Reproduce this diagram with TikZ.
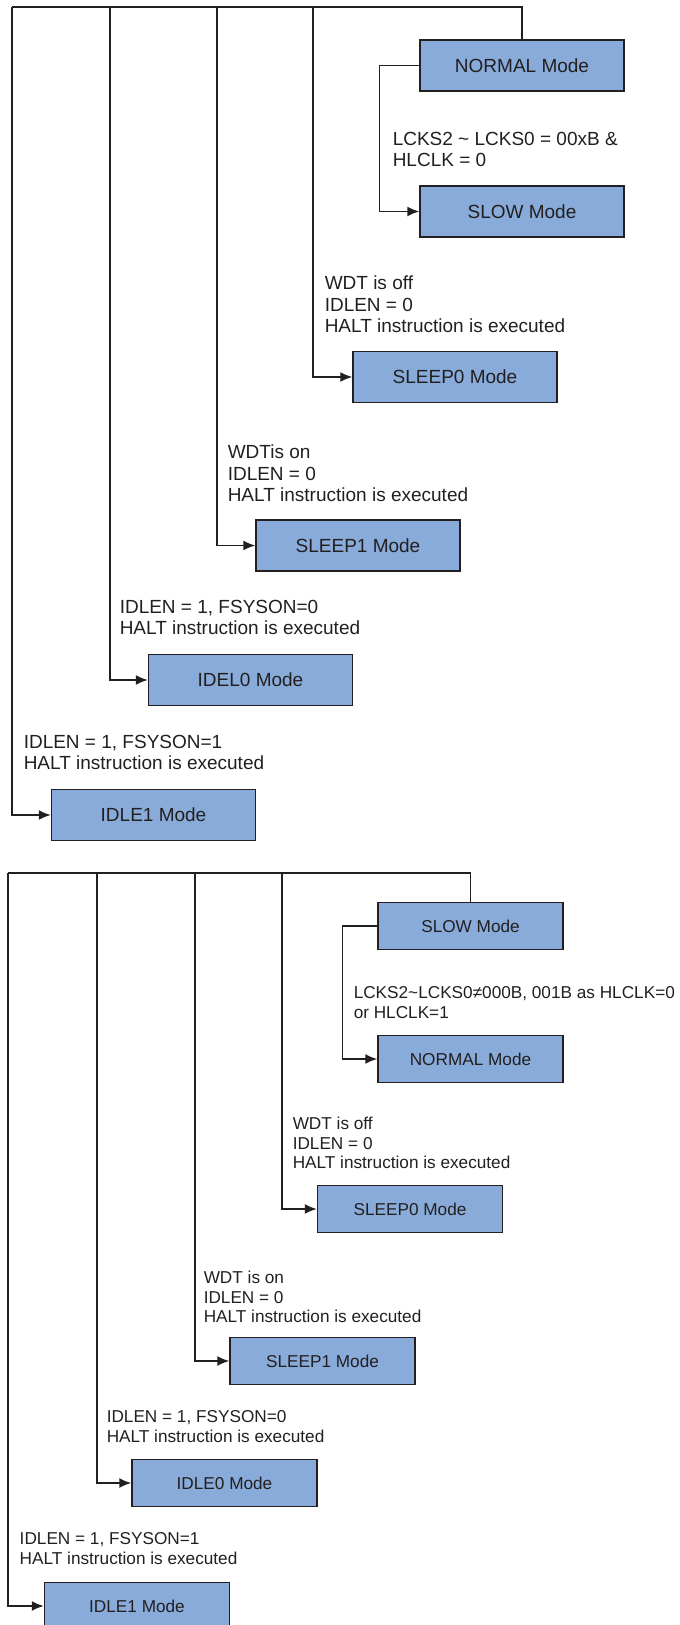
\documentclass[tikz,border=0pt]{standalone}
\usepackage{fontspec}
\setmainfont{Liberation Sans}
\usetikzlibrary{arrows.meta}
\tikzset{>={Latex[width=5pt,length=6pt]}}
\definecolor{modefill}{RGB}{136,171,217}
\definecolor{ln}{RGB}{35,31,32}

\begin{document}
\begin{tikzpicture}[x=0.5pt,y=-0.5pt,line width=0.75pt,color=ln]
\tikzstyle{m}=[draw=ln,fill=modefill,minimum width=102pt,minimum height=25.5pt,inner sep=0,font=\fontsize{9.5}{11}\selectfont]
\tikzstyle{mb}=[m,minimum width=92.5pt,minimum height=23.5pt,font=\fontsize{8.6}{10}\selectfont]
\tikzstyle{t}=[anchor=north west,inner sep=0,align=left,font=\fontsize{9.5}{10.75}\selectfont]
\tikzstyle{tb}=[t,font=\fontsize{8.6}{9.9}\selectfont]
\useasboundingbox (0,0) rectangle (679,1625);

    % NORMAL -> SLOW
    \node[m] (n1) at (522,65.5){NORMAL Mode};
    \node[m] (s1) at (522,211.5){SLOW Mode};
    \node[m] (p01) at (455,377){SLEEP0 Mode};
    \node[m] (p11) at (358,545.5){SLEEP1 Mode};
    \node[m] (i01) at (250.5,680){IDEL0 Mode};
    \node[m] (i11) at (153.5,815){IDLE1 Mode};
    
    \node[t] (c11) at (392,131){LCKS2 \textasciitilde{} LCKS0 = 00xB \&\\HLCLK = 0};
    \node[t] (c21) at (324,275){WDT is off\\IDLEN = 0\\HALT instruction is executed};
    \node[t] (c31) at (227,444){WDTis on\\IDLEN = 0\\HALT instruction is executed};
    \node[t] (c41) at (119,599){IDLEN = 1, FSYSON=0\\HALT instruction is executed};
    \node[t] (c51) at (23,734){IDLEN = 1, FSYSON=1\\HALT instruction is executed};
    
    \coordinate (b11) at (12,7);
    \coordinate (b21) at (110,7);
    \coordinate (b31) at (217,7);
    \coordinate (b41) at (313,7);
    
    \draw (n1.north) |- (b11);
    \draw[->] (n1.west) -- ++(-40,0) |- (s1);
    \draw[->] (b41) |- (p01);
    \draw[->] (b31) |- (p11);
    \draw[->] (b21) |- (i01);
    \draw[->] (b11) |- (i11);

    % SLOW -> NORMAL
    \node[mb] (s2) at (470.5,926){SLOW Mode};
    \node[mb] (n2) at (470.5,1059){NORMAL Mode};
    \node[mb] (p02) at (410,1209){SLEEP0 Mode};
    \node[mb] (p12) at (322.5,1361){SLEEP1 Mode};
    \node[mb] (i02) at (224.5,1483){IDLE0 Mode};
    \node[mb] (i12) at (137,1606){IDLE1 Mode};
    
    \node[tb] (c12) at (353,986){LCKS2\textasciitilde LCKS0≠000B, 001B as HLCLK=0\\or HLCLK=1};
    \node[tb] (c22) at (292,1116){WDT is off\\IDLEN = 0\\HALT instruction is executed};
    \node[tb] (c32) at (203,1270){WDT is on\\IDLEN = 0\\HALT instruction is executed};
    \node[tb] (c42) at (106,1410){IDLEN = 1, FSYSON=0\\HALT instruction is executed};
    \node[tb] (c52) at (19,1532){IDLEN = 1, FSYSON=1\\HALT instruction is executed};
    
    \coordinate (b12) at (8,873);
    \coordinate (b22) at (97,873);
    \coordinate (b32) at (195,873);
    \coordinate (b42) at (282,873);
    
    \draw (s2.north) |- (b12);
    \draw[->] (s2.west) -- ++(-35,0) |- (n2);
    \draw[->] (b42) |- (p02);
    \draw[->] (b32) |- (p12);
    \draw[->] (b22) |- (i02);
    \draw[->] (b12) |- (i12);
    
\end{tikzpicture}
\end{document}
